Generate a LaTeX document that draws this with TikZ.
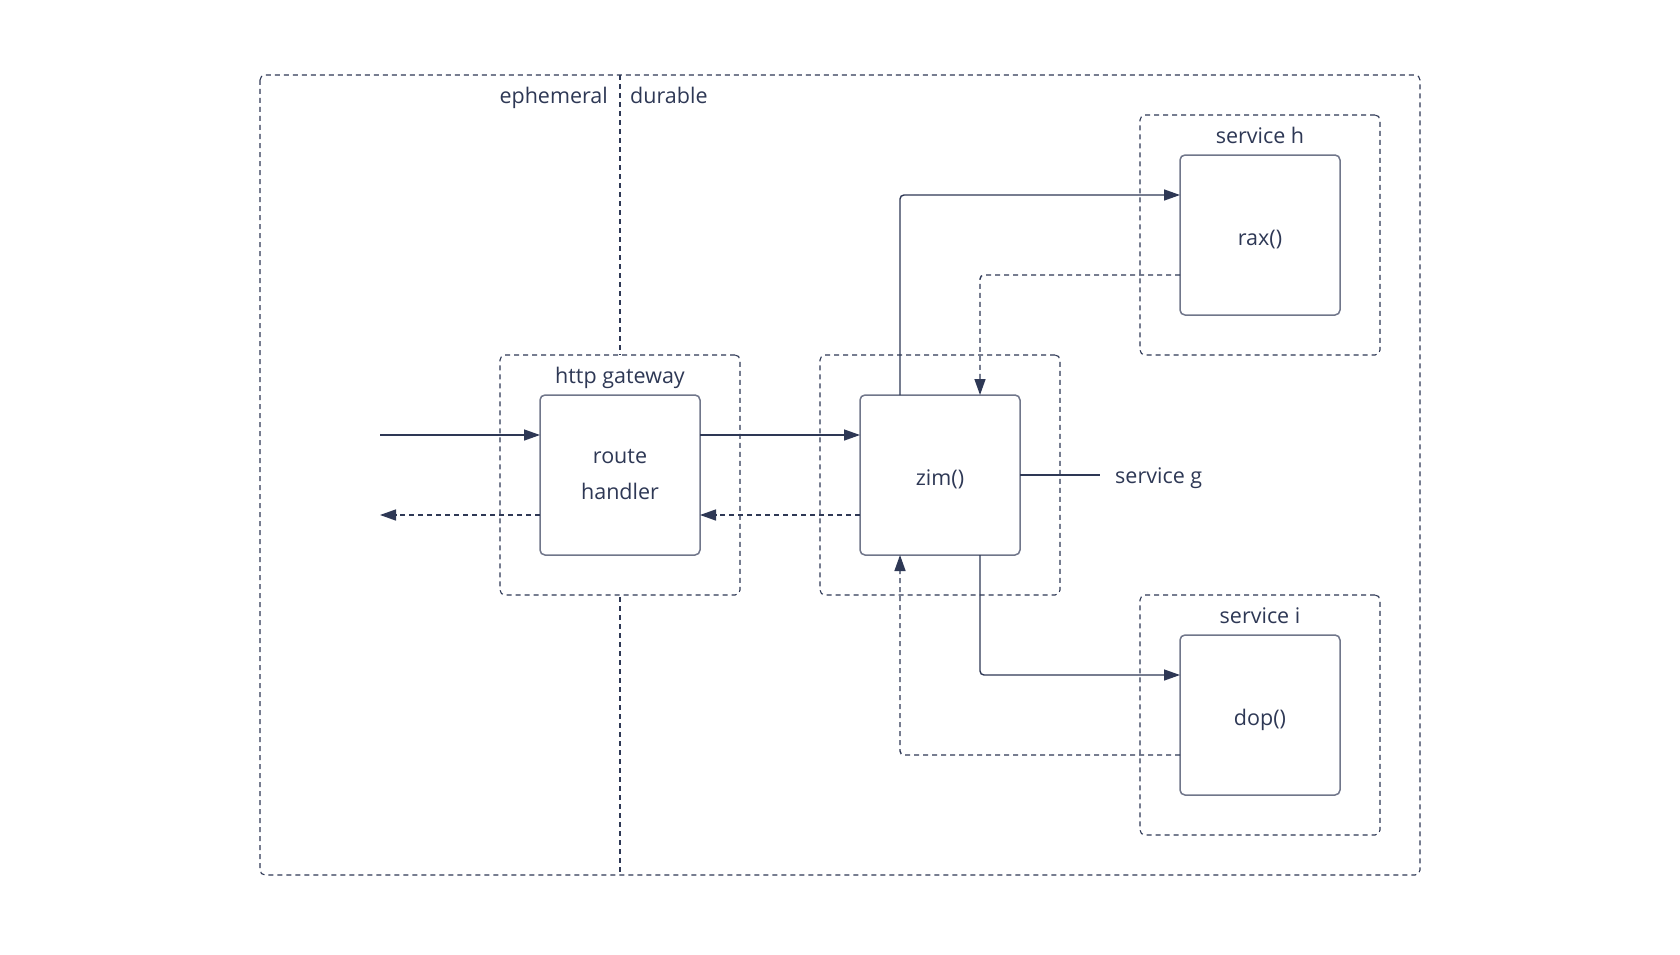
\documentclass[tikz,border=0pt]{standalone}
\usepackage{fontspec}
\setmainfont{Open Sans}
\usetikzlibrary{arrows.meta,calc}
\definecolor{ink}{RGB}{46,56,85}
\definecolor{boxline}{RGB}{112,118,138}

\begin{document}
\begin{tikzpicture}[x=1pt,y=-1pt,
  dashline/.style={draw=ink,line width=1.1pt,dash pattern=on 5pt off 4pt},
  lane/.style={dashline,rounded corners=5pt},
  group/.style={dashline,fill=white,rounded corners=5pt,minimum width=240pt,minimum height=240pt,inner sep=0pt,outer sep=0pt},
  fn/.style={draw=boxline,fill=white,line width=1.5pt,rounded corners=5pt,minimum width=160pt,minimum height=160pt,inner sep=0pt,outer sep=0pt,align=center,text=ink,font=\fontsize{21.5}{36}\selectfont},
  oneline/.style={text height=20pt,text depth=0pt},
  caption/.style={text=ink,font=\fontsize{21.5}{26}\selectfont,inner sep=0pt},
  wire/.style={draw=ink,line width=1.4pt,rounded corners=4pt},
  call/.style={wire,-{Triangle[length=16pt,width=11pt]}},
  reply/.style={call,dash pattern=on 5pt off 4pt},
]
\useasboundingbox (0,0) rectangle (1680,955);

% ephemeral / durable lanes
\draw[lane] (260,75) rectangle (1420,875);
\draw[dashline] (620,75) -- (620,875);
\node[caption,anchor=base east] (ephemeral) at (608,103) {ephemeral};
\node[caption,anchor=base west] (durable) at (630,103) {durable};

% service groups
\node[group] (gw) at (620,475) {};
\node[group] (svcg) at (940,475) {};
\node[group] (svch) at (1260,235) {};
\node[group] (svci) at (1260,715) {};
\node[caption,anchor=base] (gwlabel) at (620,383) {http gateway};
\node[caption,anchor=base] (hlabel) at (1260,143) {service h};
\node[caption,anchor=base] (ilabel) at (1260,623) {service i};
\node[caption,anchor=base west] (glabel) at (1115,483) {service g};

% functions
\node[fn] (rh) at (620,475) {route\\handler};
\node[fn,oneline] (zim) at (940,475) {zim()};
\node[fn,oneline] (rax) at (1260,235) {rax()};
\node[fn,oneline] (dop) at (1260,715) {dop()};

% free ends
\coordinate (src) at (380,435);
\coordinate (sink) at (380,515);
\coordinate (gtap) at (1100,475);

% calls (solid) and replies (dashed)
\draw[call] (src) -- (src -| rh.west);
\draw[reply] (rh.west |- sink) -- (sink);
\draw[call] ($(rh.north east)+(0,40)$) -- ($(zim.north west)+(0,40)$);
\draw[reply] ($(zim.south west)+(0,-40)$) -- ($(rh.south east)+(0,-40)$);
\draw[call] ($(zim.north west)+(40,0)$) |- ($(rax.north west)+(0,40)$);
\draw[reply] ($(rax.south west)+(0,-40)$) -| ($(zim.north east)+(-40,0)$);
\draw[call] ($(zim.south east)+(-40,0)$) |- ($(dop.north west)+(0,40)$);
\draw[reply] ($(dop.south west)+(0,-40)$) -| ($(zim.south west)+(40,0)$);
\draw[wire] (zim.east) -- (gtap);
\end{tikzpicture}
\end{document}
